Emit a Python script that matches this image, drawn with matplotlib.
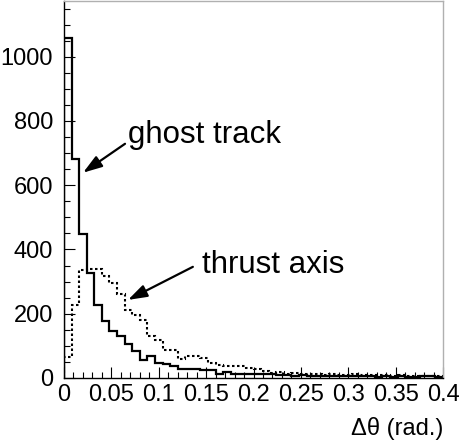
import numpy as np
import matplotlib
matplotlib.use("Agg")
import matplotlib.pyplot as plt
from matplotlib.ticker import MultipleLocator, FuncFormatter

plt.rcParams['font.family'] = ['Liberation Sans', 'DejaVu Sans']

bin_edges = np.linspace(0.0, 0.4, 51)
ghost_track = [1057, 681, 448, 328, 226, 177, 145, 132, 106, 83,
               57, 68, 48, 45, 37, 28, 28, 27, 24, 24,
               14, 19, 12, 14, 14, 13, 11, 11, 8, 9,
               7, 8, 7, 6, 7, 6, 5, 6, 5, 5,
               6, 4, 5, 4, 5, 3, 4, 5, 6, 4]
thrust_axis = [66, 228, 335, 340, 340, 318, 297, 263, 213, 195,
               182, 130, 117, 88, 86, 60, 70, 67, 62, 47,
               42, 38, 38, 37, 32, 29, 22, 17, 19, 14,
               16, 13, 11, 12, 10, 12, 10, 9, 11, 8,
               9, 8, 8, 7, 8, 7, 6, 7, 6, 5]
y_ticks = [0, 200, 400, 600, 800, 1000]
x_ticks = [0, 0.05, 0.1, 0.15, 0.2, 0.25, 0.3, 0.35, 0.4]

fig = plt.figure(figsize=(4.6, 4.43), dpi=100)
ax = fig.add_axes([64/460, 65/443, 379/460, 377.5/443])

ax.stairs(thrust_axis, bin_edges, baseline=0, color='black', lw=1.5,
          linestyle=(0, (1.2, 1.2)))
ax.stairs(ghost_track, bin_edges, baseline=0, color='black', lw=1.6)

ax.set_xlim(0, 0.4)
ax.set_ylim(0, 1175)

ax.set_xticks(x_ticks)
ax.xaxis.set_major_formatter(FuncFormatter(lambda v, p: '%g' % round(v, 3)))
ax.xaxis.set_minor_locator(MultipleLocator(0.01))
ax.set_yticks(y_ticks)
ax.yaxis.set_minor_locator(MultipleLocator(50))

ax.tick_params(axis='both', which='both', direction='in', top=False, right=False,
               labelsize=17, colors='black', width=0.8)
ax.tick_params(axis='both', which='major', length=8)
ax.tick_params(axis='both', which='minor', length=4)
ax.tick_params(axis='y', which='major', pad=8)
ax.tick_params(axis='x', which='major', pad=4)

ax.spines['left'].set_color('black')
ax.spines['bottom'].set_color('black')
ax.spines['top'].set_color('#b0b0b0')
ax.spines['right'].set_color('#b0b0b0')
for s in ax.spines.values():
    s.set_linewidth(1.0)

ax.text(1.0, -0.151, 'Δθ (rad.)', transform=ax.transAxes,
        ha='right', va='baseline', fontsize=17)

arrow_style = dict(arrowstyle='-|>,head_length=1.15,head_width=0.38',
                   color='black', lw=1.6, shrinkA=0, shrinkB=0,
                   mutation_scale=10)

ax.text(0.0675, 732, 'ghost track', fontsize=22.5, ha='left', va='baseline')
ax.annotate('', xy=(0.0201, 639), xytext=(0.0644, 729), arrowprops=arrow_style)

ax.text(0.1453, 327, 'thrust axis', fontsize=22.5, ha='left', va='baseline')
ax.annotate('', xy=(0.0675, 243), xytext=(0.136, 346), arrowprops=arrow_style)

fig.savefig('out.png', dpi=100)
